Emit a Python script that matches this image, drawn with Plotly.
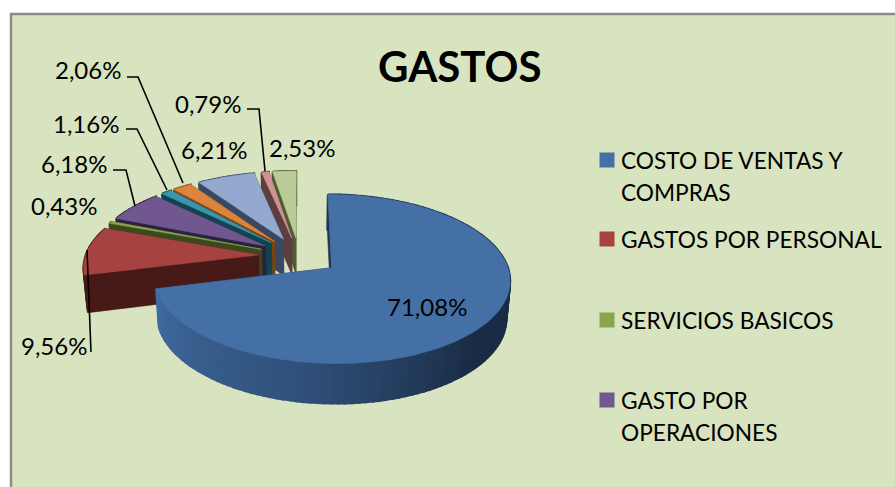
import math
import plotly.graph_objects as go

TITLE = "GASTOS"
CATEGORIES = ["COSTO DE VENTAS Y COMPRAS", "GASTOS POR PERSONAL", "SERVICIOS BASICOS",
              "GASTO POR OPERACIONES", "OTROS 1", "OTROS 2", "OTROS 3", "OTROS 4", "OTROS 5"]
VALUES = [71.08, 9.56, 0.43, 6.18, 1.16, 2.06, 6.21, 0.79, 2.53]
TOP_COLORS = ["#4470a6", "#a64340", "#8aa64d", "#71578f", "#3a95ad", "#db843d", "#93a9cf", "#d19392", "#b9cb97"]
WALL_COLORS = ["#1f3550", "#471a18", "#3a4a1c", "#2c2040", "#12444f", "#7d430f", "#3b4862", "#5c3e3e", "#4e5c36"]
LEGEND_LINES = [["COSTO DE VENTAS Y", "COMPRAS"], ["GASTOS POR PERSONAL"], ["SERVICIOS BASICOS"], ["GASTO POR", "OPERACIONES"]]

# projection of the exploded, tilted pie
CX, CY, A, K, P, EXPLODE, H = 299.0, 256.0, 173.0, 80.0, 0.13, 0.235, 37.0
FONT = "Lato"


def proj(u, v, bottom=False):
    d = 1 + P * v
    x, y = CX + A * u / d, CY - K * v / d
    if bottom:
        x = CX + (x - CX) * 0.982
        y += H / (1 + 0.5 * P * v)
    return x, y


def mix(c1, c2, t):
    a = [int(c1[i:i + 2], 16) for i in (1, 3, 5)]
    b = [int(c2[i:i + 2], 16) for i in (1, 3, 5)]
    return "#%02x%02x%02x" % tuple(round(p + (q - p) * t) for p, q in zip(a, b))


def blue_side(t):
    stops = [(255, "#3f6a9d"), (190, "#30507a"), (135, "#1a2c45"), (100, "#1a2c45"), (85, "#1f3552")]
    for (t0, c0), (t1, c1) in zip(stops, stops[1:]):
        if t1 <= t <= t0:
            return mix(c0, c1, (t0 - t) / (t0 - t1))
    return stops[-1][1] if t < 85 else stops[0][1]


fig = go.Figure()


def poly(pts, color, name=None, width=0.6):
    xs = [p[0] for p in pts] + [pts[0][0]]
    ys = [p[1] for p in pts] + [pts[0][1]]
    fig.add_trace(go.Scatter(x=xs, y=ys, mode="lines", fill="toself", fillcolor=color,
                             line=dict(color=color, width=width), hoverinfo="skip",
                             showlegend=False, name=name))


# slice angles from the values
total = sum(VALUES)
slices = []
acc = 0.0
for i, val in enumerate(VALUES):
    t0 = acc / total * 360
    acc += val
    t1 = acc / total * 360
    slices.append((i, t0, t1))

# back to front
for i, t0, t1 in reversed(slices):
    m = math.radians((t0 + t1) / 2)
    ou, ov = EXPLODE * math.sin(m), EXPLODE * math.cos(m)
    n = max(4, int((t1 - t0) / 2))
    world = []
    for j in range(n + 1):
        th = math.radians(t0 + (t1 - t0) * j / n)
        world.append((ou + math.sin(th), ov + math.cos(th), t0 + (t1 - t0) * j / n))
    top = [proj(ou, ov)] + [proj(u, v) for u, v, _ in world]
    # radial walls
    for (u, v, _) in (world[0], world[-1]):
        poly([proj(ou, ov), proj(u, v), proj(u, v, True), proj(ou, ov, True)], WALL_COLORS[i])
    # outer wall
    for a, b in zip(world, world[1:]):
        col = blue_side((a[2] + b[2]) / 2) if i == 0 else WALL_COLORS[i]
        poly([proj(a[0], a[1]), proj(b[0], b[1]), proj(b[0], b[1], True), proj(a[0], a[1], True)], col, width=2.0)
    poly(top, TOP_COLORS[i], CATEGORIES[i])

# leader lines
LEADERS = [[(127, 77), (138, 77), (183, 183)], [(126, 129), (137, 129), (167, 190)],
           [(113, 170), (126, 170), (135, 206)], [(247, 109), (259, 109), (265, 171)],
           [(91, 352), (87, 250)]]
for path in LEADERS:
    fig.add_trace(go.Scatter(x=[p[0] for p in path], y=[p[1] for p in path], mode="lines",
                              line=dict(color="#000000", width=1.6), hoverinfo="skip", showlegend=False))

# legend swatches
SWATCH_Y = [160, 239, 320, 400]
fig.add_trace(go.Scatter(x=[607] * 4, y=SWATCH_Y, mode="markers", hoverinfo="skip", showlegend=False,
                         marker=dict(symbol="square", size=15, color=TOP_COLORS[:4], line=dict(width=0))))

LABEL_POS = [(427, 306), (54, 345), (64, 205), (74, 163), (86, 123), (88, 69), (214, 149), (208, 103), (302, 147)]
ann = []
for val, (x, y) in zip(VALUES, LABEL_POS):
    ann.append(dict(x=x, y=y, text=f"{val:.2f}".replace(".", ",") + "%", showarrow=False,
                    font=dict(family=FONT, size=24, color="#000000")))
ann.append(dict(x=460, y=66, text=f"<b>{TITLE}</b>", showarrow=False,
                font=dict(family=FONT, size=42, color="#000000")))
LINE_STEP = 32
for sy, lines in zip(SWATCH_Y, LEGEND_LINES):
    for k, line in enumerate(lines):
        ann.append(dict(x=619, y=sy + k * LINE_STEP, text=line, showarrow=False, xanchor="left",
                        font=dict(family=FONT, size=22.7, color="#000000")))

fig.update_layout(
    width=895, height=487, margin=dict(l=0, r=0, t=0, b=0), showlegend=False,
    paper_bgcolor="#ffffff", plot_bgcolor="rgba(0,0,0,0)",
    xaxis=dict(range=[0, 895], visible=False, fixedrange=True),
    yaxis=dict(range=[487, 0], visible=False, fixedrange=True),
    annotations=ann,
    shapes=[dict(type="rect", x0=11, y0=14, x1=960, y1=560, layer="below",
                 fillcolor="#d8e3bf", line=dict(color="#8c8c8c", width=2.5))],
)
fig.write_html("out.html", config=dict(displayModeBar=False),
               post_script="document.body.style.margin='0';document.body.style.overflow='hidden';")
